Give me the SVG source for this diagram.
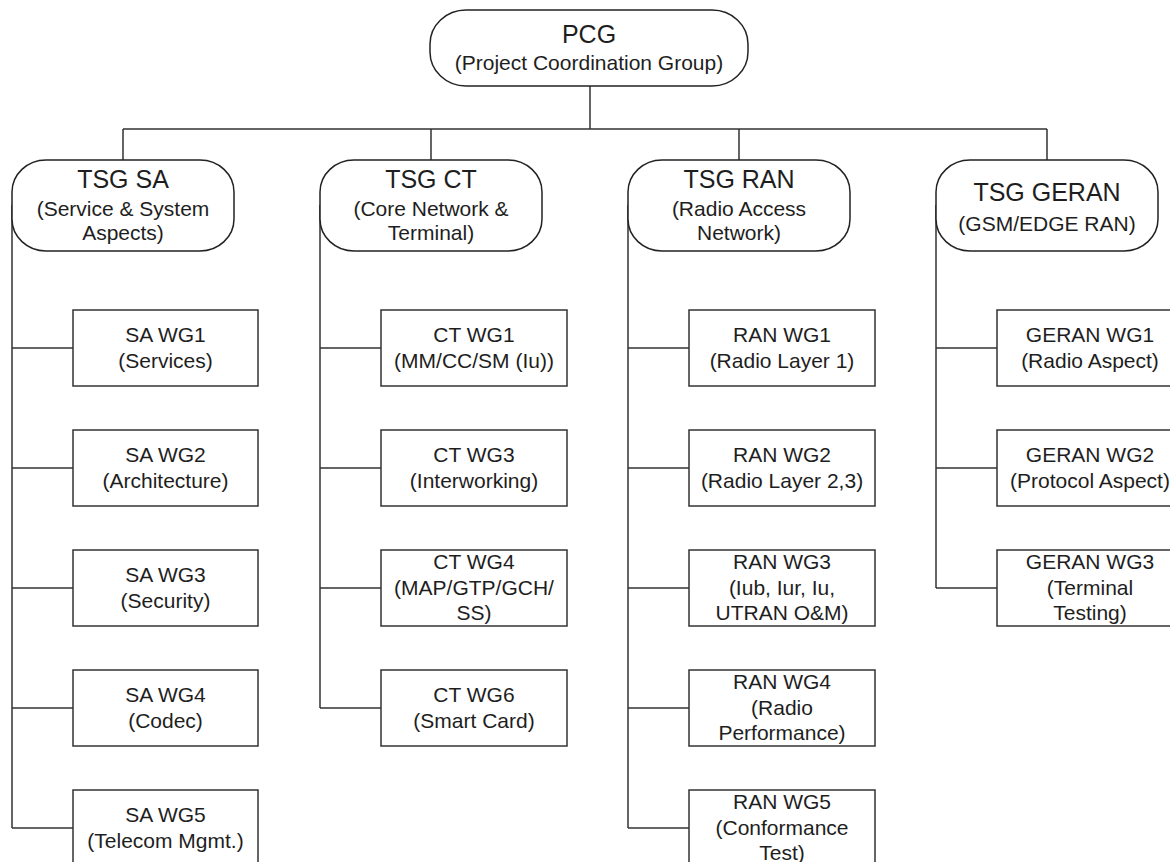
<svg xmlns="http://www.w3.org/2000/svg" width="1170" height="862" viewBox="0 0 1170 862">
<style>
.tsg{fill:#fff;stroke:#222;stroke-width:1.5}
.wg{fill:#fff;stroke:#333;stroke-width:1.5}
.ln{fill:none;stroke:#333;stroke-width:1.5}
text{font-family:"Liberation Sans",Arial,sans-serif;fill:#1e1e1e;text-anchor:middle}
.t{font-size:25px}
.s{font-size:21px}
</style>
<rect width="1170" height="862" fill="#fff"/>
<g id="connectors">
<path class="ln" d="M590 86V129M123 129H1047M123 129V160M431 129V160M739 129V160M1047 129V160"/>
<path class="ln" d="M12 205V828M12 348H73M12 468H73M12 588H73M12 708H73M12 828H73"/>
<path class="ln" d="M320 205V708M320 348H381M320 468H381M320 588H381M320 708H381"/>
<path class="ln" d="M628 205V828M628 348H689M628 468H689M628 588H689M628 708H689M628 828H689"/>
<path class="ln" d="M936 205V588M936 348H997M936 468H997M936 588H997"/>
</g>
<g id="pcg">
<rect class="tsg" x="430" y="10" width="318" height="76" rx="36" ry="34"/>
<text class="t" x="589" y="43">PCG</text>
<text class="s" x="589" y="70">(Project Coordination Group)</text>
</g>
<g id="tsg-sa">
<rect class="tsg" x="12" y="160" width="222" height="91" rx="34" ry="32"/>
<text class="t" x="123" y="188">TSG SA</text>
<text class="s" x="123" y="216">(Service &amp; System</text>
<text class="s" x="123" y="240">Aspects)</text>
</g>
<g id="tsg-ct">
<rect class="tsg" x="320" y="160" width="222" height="91" rx="34" ry="32"/>
<text class="t" x="431" y="188">TSG CT</text>
<text class="s" x="431" y="216">(Core Network &amp;</text>
<text class="s" x="431" y="240">Terminal)</text>
</g>
<g id="tsg-ran">
<rect class="tsg" x="628" y="160" width="222" height="91" rx="34" ry="32"/>
<text class="t" x="739" y="188">TSG RAN</text>
<text class="s" x="739" y="216">(Radio Access</text>
<text class="s" x="739" y="240">Network)</text>
</g>
<g id="tsg-geran">
<rect class="tsg" x="936" y="160" width="222" height="91" rx="34" ry="32"/>
<text class="t" x="1047" y="201">TSG GERAN</text>
<text class="s" x="1047" y="231">(GSM/EDGE RAN)</text>
</g>
<g id="sa-wg1"><rect class="wg" x="73" y="310" width="185" height="76"/><text class="s" x="165.5" y="342">SA WG1</text><text class="s" x="165.5" y="368">(Services)</text></g>
<g id="sa-wg2"><rect class="wg" x="73" y="430" width="185" height="76"/><text class="s" x="165.5" y="462">SA WG2</text><text class="s" x="165.5" y="488">(Architecture)</text></g>
<g id="sa-wg3"><rect class="wg" x="73" y="550" width="185" height="76"/><text class="s" x="165.5" y="582">SA WG3</text><text class="s" x="165.5" y="608">(Security)</text></g>
<g id="sa-wg4"><rect class="wg" x="73" y="670" width="185" height="76"/><text class="s" x="165.5" y="702">SA WG4</text><text class="s" x="165.5" y="728">(Codec)</text></g>
<g id="sa-wg5"><rect class="wg" x="73" y="790" width="185" height="76"/><text class="s" x="165.5" y="822">SA WG5</text><text class="s" x="165.5" y="848">(Telecom Mgmt.)</text></g>
<g id="ct-wg1"><rect class="wg" x="381" y="310" width="186" height="76"/><text class="s" x="474" y="342">CT WG1</text><text class="s" x="474" y="368">(MM/CC/SM (Iu))</text></g>
<g id="ct-wg3"><rect class="wg" x="381" y="430" width="186" height="76"/><text class="s" x="474" y="462">CT WG3</text><text class="s" x="474" y="488">(Interworking)</text></g>
<g id="ct-wg4"><rect class="wg" x="381" y="550" width="186" height="76"/><text class="s" x="474" y="569">CT WG4</text><text class="s" x="474" y="595">(MAP/GTP/GCH/</text><text class="s" x="474" y="620">SS)</text></g>
<g id="ct-wg6"><rect class="wg" x="381" y="670" width="186" height="76"/><text class="s" x="474" y="702">CT WG6</text><text class="s" x="474" y="728">(Smart Card)</text></g>
<g id="ran-wg1"><rect class="wg" x="689" y="310" width="186" height="76"/><text class="s" x="782" y="342">RAN WG1</text><text class="s" x="782" y="368">(Radio Layer 1)</text></g>
<g id="ran-wg2"><rect class="wg" x="689" y="430" width="186" height="76"/><text class="s" x="782" y="462">RAN WG2</text><text class="s" x="782" y="488">(Radio Layer 2,3)</text></g>
<g id="ran-wg3"><rect class="wg" x="689" y="550" width="186" height="76"/><text class="s" x="782" y="569">RAN WG3</text><text class="s" x="782" y="595">(Iub, Iur, Iu,</text><text class="s" x="782" y="620">UTRAN O&amp;M)</text></g>
<g id="ran-wg4"><rect class="wg" x="689" y="670" width="186" height="76"/><text class="s" x="782" y="689">RAN WG4</text><text class="s" x="782" y="715">(Radio</text><text class="s" x="782" y="740">Performance)</text></g>
<g id="ran-wg5"><rect class="wg" x="689" y="790" width="186" height="76"/><text class="s" x="782" y="809">RAN WG5</text><text class="s" x="782" y="835">(Conformance</text><text class="s" x="782" y="860">Test)</text></g>
<g id="geran-wg1"><rect class="wg" x="997" y="310" width="186" height="76"/><text class="s" x="1090" y="342">GERAN WG1</text><text class="s" x="1090" y="368">(Radio Aspect)</text></g>
<g id="geran-wg2"><rect class="wg" x="997" y="430" width="186" height="76"/><text class="s" x="1090" y="462">GERAN WG2</text><text class="s" x="1090" y="488">(Protocol Aspect)</text></g>
<g id="geran-wg3"><rect class="wg" x="997" y="550" width="186" height="76"/><text class="s" x="1090" y="569">GERAN WG3</text><text class="s" x="1090" y="595">(Terminal</text><text class="s" x="1090" y="620">Testing)</text></g>
</svg>
